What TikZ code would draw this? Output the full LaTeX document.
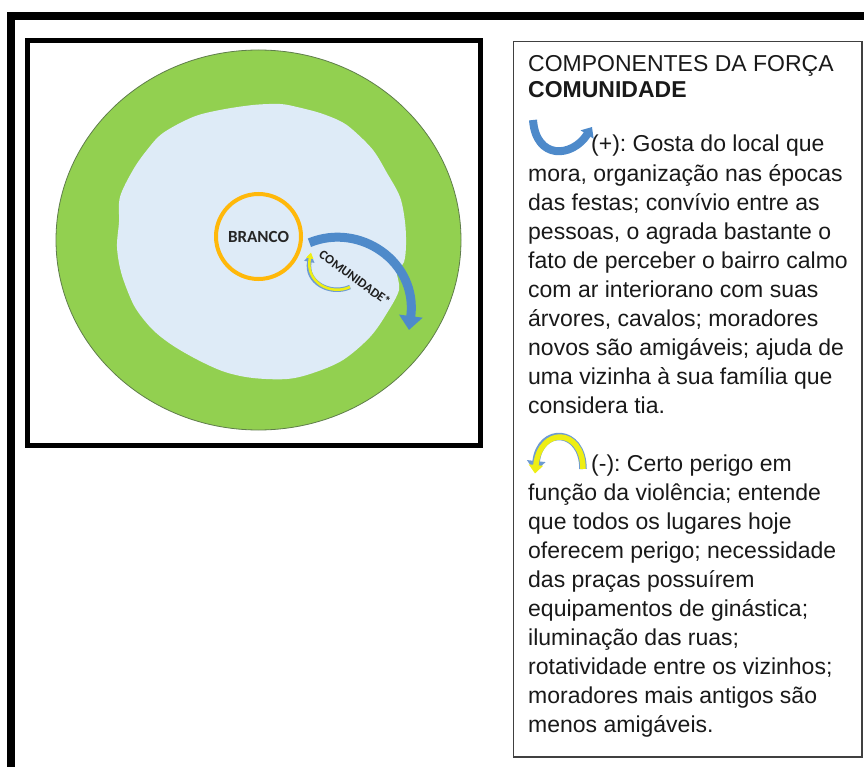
\documentclass[tikz,border=0pt]{standalone}
\usepackage{fontspec}
\setmainfont{Liberation Sans}
\newfontfamily\calibrifont{Carlito}
\usetikzlibrary{arrows.meta, positioning}
\frenchspacing
\definecolor{ringgreen}{RGB}{146,208,80}
\definecolor{ringedge}{RGB}{95,125,75}
\definecolor{zoneblue}{RGB}{222,235,247}
\definecolor{selforange}{RGB}{255,184,10}
\definecolor{forceblue}{RGB}{78,138,202}
\definecolor{forceyellow}{RGB}{238,238,20}
\definecolor{edgeblue}{RGB}{110,155,210}
\tikzset{
  frameline/.style={line width=8pt,draw=black},
  picbox/.style={draw=black,line width=5.5pt},
  textbox/.style={draw=black!75,line width=1.3pt},
  % multi-line nodes: the base anchor sits on the last line
  bodytext/.style={anchor=base west,inner sep=0pt,align=left,text=black!90,
    font=\fontsize{23}{29}\selectfont},
  titletext/.style={anchor=base west,inner sep=0pt,align=left,text=black!90,
    font=\fontsize{23}{26.5}\selectfont},
  selfnode/.style={circle,draw=selforange,line width=4pt,minimum size=85pt,
    inner sep=0pt,font=\calibrifont\bfseries\fontsize{17}{17}\selectfont,text=black!85},
  forcelabel/.style={inner sep=0pt,font=\calibrifont\bfseries\fontsize{13}{13}\selectfont,
    text=black!88},
  bluearrow/.style={draw=forceblue,line width=9pt,-{Triangle[width=23pt,length=14pt]}},
  iconblue/.style={draw=forceblue,line width=8pt,-{Triangle[width=15pt,length=9pt]}},
  yellowedge/.style={draw=edgeblue,line width=#1},
  yellowfill/.style={draw=forceyellow,line width=#1}
}

\begin{document}
\begin{tikzpicture}[x=1pt,y=-1pt]
  \useasboundingbox (0,0) rectangle (864,767);
  % outer frame (cut by the page)
  \draw[frameline] (11,790) -- (11,16) -- (890,16);
  % picture box
  \draw[picbox] (27.5,40.5) rectangle (480.5,445.5);
  % community ring and neighbourhood zone
  \fill[ringgreen,draw=ringedge,line width=0.8pt] (258.5,240) ellipse [x radius=202.5,y radius=190];
  \fill[zoneblue] plot[smooth cycle,tension=0.55] coordinates {
    (193,117) (220,110) (253,105) (280,104) (297,107) (320,113) (340,121)
    (353,130) (373,150) (387,173) (400,197) (405,222) (406,245) (404,262)
    (397,272) (399,290) (387,313) (370,337) (343,360) (313,373) (287,379)
    (253,378) (225,372) (198,360) (172,345) (153,330) (138,312) (130,297)
    (121,272) (117,247) (119,222) (120,197) (133,170) (147,150) (163,133)};
  \node[selfnode] (branco) at (258.5,236.5) {BRANCO};
  \coordinate (ringpt) at (409,330);
  \coordinate (loopend) at (311,254);
  \coordinate (loopstart) at (350,287);
  \draw[bluearrow,shorten <=8pt] (branco.-12) .. controls (360,222) and (418,262) .. (ringpt);
  \draw[yellowedge=4.5pt,-{Triangle[width=10pt,length=8pt]}]
    (loopstart) .. controls (330,296) and (305,282) .. (loopend);
  \draw[yellowfill=2.5pt,-{Triangle[width=7pt,length=6pt]}]
    (loopstart) .. controls (330,296) and (305,282) .. ([yshift=1.5pt]loopend);
  \node[forcelabel,rotate=-36] (comlabel) at (355,278) {COMUNIDADE*};

  % legend box
  \draw[textbox] (513.5,41.5) rectangle (862,757);
  \node[titletext] (title) at (528,98) {COMPONENTES DA FORÇA\\\textbf{COMUNIDADE}};
  \coordinate (plusa) at (533,120);
  \coordinate (plusb) at (592,127);
  \draw[iconblue] (plusa) .. controls (536,160) and (572,158) .. (plusb);
  \node[bodytext] (plushead) at (591,152) {(+): Gosta do local que};
  \node[bodytext] (plusbody) at (528,413) {mora, organização nas épocas\\
    das festas; convívio entre as\\
    pessoas, o agrada bastante o\\
    fato de perceber o bairro calmo\\
    com ar interiorano com suas\\
    árvores, cavalos; moradores\\
    novos são amigáveis; ajuda de\\
    uma vizinha à sua família que\\
    considera tia.};
  \coordinate (minusa) at (583,469);
  \coordinate (minusb) at (535,472);
  \draw[yellowedge=7.5pt,-{Triangle[width=18pt,length=11pt]}]
    (minusa) .. controls (583,428) and (540,426) .. (minusb);
  \draw[yellowfill=5.5pt,-{Triangle[width=14pt,length=8.5pt]}]
    (minusa) .. controls (583,428) and (540,426) .. ([yshift=-1.5pt]minusb);
  \node[bodytext] (minushead) at (591,471) {(-): Certo perigo em};
  \node[bodytext] (minusbody) at (528,732) {função da violência; entende\\
    que todos os lugares hoje\\
    oferecem perigo; necessidade\\
    das praças possuírem\\
    equipamentos de ginástica;\\
    iluminação das ruas;\\
    rotatividade entre os vizinhos;\\
    moradores mais antigos são\\
    menos amigáveis.};
\end{tikzpicture}
\end{document}
